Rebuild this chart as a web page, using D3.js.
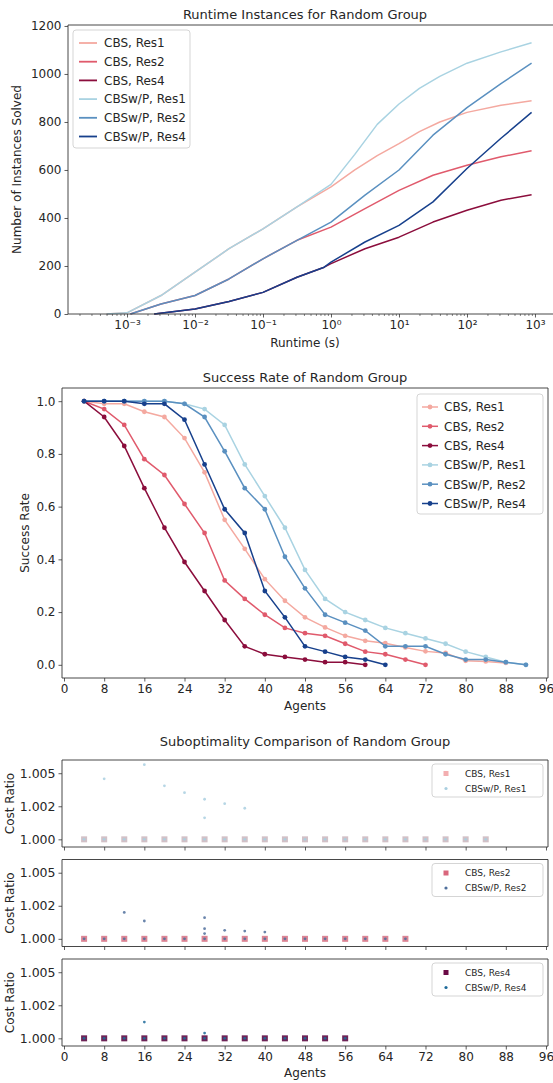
<!DOCTYPE html>
<html><head><meta charset="utf-8">
<script src="https://cdn.jsdelivr.net/npm/d3@7"></script>
<style>body{margin:0;background:#fff}svg{display:block;font-family:"DejaVu Sans",sans-serif}</style>
</head><body><svg id="c" width="553" height="1083"></svg>
<script>
// ---------- DATA ----------
const seriesNames = ["CBS, Res1","CBS, Res2","CBS, Res4","CBSw/P, Res1","CBSw/P, Res2","CBSw/P, Res4"];
const seriesColors = ["#f4a9a0","#e05a6c","#8b0d3c","#a9d3e2","#5a90c0","#17408c"];

// Runtime chart: log10(runtime seconds) and cumulative instances solved
const rtLog = [-3.3,-3.0,-2.5,-2.0,-1.5,-1.0,-0.5,0.0,0.35,0.68,1.0,1.3,1.6,2.0,2.5,2.95];
const rtCBS1  = [0,5,77,174,272,355,446,530,600,660,710,760,800,840,870,888];
const rtWP1   = [0,5,77,174,272,355,446,540,665,790,875,940,990,1045,1092,1130];
const rtLog2 = [-2.95,-2.5,-2.0,-1.5,-1.0,-0.5,0.0,0.5,1.0,1.5,2.0,2.5,2.95];
const rtCBS2  = [0,42,77,146,230,307,362,439,515,578,620,655,680];
const rtWP2   = [0,42,77,146,230,307,383,495,600,745,860,960,1045];
const rtLog4 = [-2.6,-2.0,-1.5,-1.0,-0.5,-0.1,0.0,0.5,1.0,1.5,2.0,2.5,2.95];
const rtCBS4  = [0,21,52,90,153,195,210,272,320,383,432,474,497];
const rtWP4   = [0,21,52,90,153,195,216,300,369,467,606,732,840];
const rtYTicks = [0,200,400,600,800,1000,1200];

// Success-rate chart
const agents = [4,8,12,16,20,24,28,32,36,40,44,48,52,56,60,64,68,72,76,80,84,88,92];
const srCBS1 = [1.0,0.99,0.99,0.96,0.94,0.86,0.73,0.55,0.44,0.325,0.243,0.18,0.142,0.11,0.091,0.082,0.066,0.051,0.045,0.015,0.013,0.007];
const srCBS2 = [1.0,0.97,0.91,0.78,0.72,0.61,0.50,0.32,0.25,0.19,0.14,0.12,0.11,0.08,0.05,0.04,0.02,0.0];
const srCBS4 = [1.0,0.94,0.83,0.67,0.52,0.39,0.28,0.17,0.07,0.04,0.03,0.02,0.01,0.01,0.0];
const srWP1  = [1.0,1.0,1.0,1.0,1.0,0.99,0.97,0.91,0.76,0.64,0.52,0.36,0.25,0.20,0.17,0.14,0.12,0.10,0.08,0.05,0.03,0.01,0.0];
const srWP2  = [1.0,1.0,1.0,1.0,1.0,0.99,0.94,0.81,0.67,0.59,0.41,0.29,0.19,0.16,0.13,0.07,0.07,0.07,0.04,0.02,0.02,0.01,0.0];
const srWP4  = [1.0,1.0,1.0,0.99,0.99,0.93,0.76,0.59,0.50,0.28,0.18,0.07,0.05,0.03,0.02,0.0];
const agentTicks = [0,8,16,24,32,40,48,56,64,72,80,88,96];
const srYTicks = [0.0,0.2,0.4,0.6,0.8,1.0];

// Suboptimality chart: CBS points all at ratio 1.000; CBSw/P outliers
const subCBSAgents = [
  [4,8,12,16,20,24,28,32,36,40,44,48,52,56,60,64,68,72,76,80,84],
  [4,8,12,16,20,24,28,32,36,40,44,48,52,56,60,64,68],
  [4,8,12,16,20,24,28,32,36,40,44,48,52,56]
];
const subWPAgents = [
  [4,8,8,12,16,16,20,20,24,24,28,28,28,32,32,36,36,40,44,48,52,56,60,64,68,72,76,80,84],
  [4,8,12,12,16,16,20,24,28,28,28,28,32,32,36,36,40,40,44,48,52,56,60,64,68],
  [4,8,12,16,16,20,24,28,28,32,36,40,44,48,52,56]
];
const subWPRatios = [
  [1,1,1.00458,1,1,1.00565,1,1.00405,1,1.00353,1,1.00303,1.00163,1,1.0027,1,1.00235,1,1,1,1,1,1,1,1,1,1,1,1],
  [1,1,1,1.0020,1,1.00135,1,1,1,1.0016,1.00077,1.0004,1,1.00064,1,1.00059,1,1.00051,1,1,1,1,1,1,1],
  [1,1,1,1,1.00123,1,1,1,1.0004,1,1,1,1,1,1,1]
];
const subSquareColors = ["#cdbac1","#d9788a","#5e0c45"];
const subDotColors = ["#a9cfe0","#4f6f9c","#1d6a9a"];
const subLegendSquare = ["#f3aeb0","#d9667c","#6a0a45"];
const subYTicks = [1.000,1.0025,1.005];
const subYLabels = ["1.000","1.002","1.005"];

// ---------- DRAW ----------
const svg = d3.select("#c");
svg.append("rect").attr("width",553).attr("height",1083).attr("fill","#fff");
const TXT = "#262626", AX = "#333";

function frame(g,x0,y0,x1,y1,sides){
  sides.forEach(s=>{
    const p = {l:[x0,y0,x0,y1], r:[x1,y0,x1,y1], t:[x0,y0,x1,y0], b:[x0,y1,x1,y1]}[s];
    g.append("line").attr("x1",p[0]).attr("y1",p[1]).attr("x2",p[2]).attr("y2",p[3])
      .attr("stroke",AX).attr("stroke-width",0.9);
  });
}
function styleAxis(g,fs){
  g.select(".domain").remove();
  g.selectAll(".tick line").attr("stroke",AX).attr("stroke-width",0.8);
  g.selectAll(".tick text").attr("fill",TXT).attr("font-size",fs).attr("font-family","DejaVu Sans");
}

// ===== Chart 1: runtime =====
{
  const L=68, T=25, R=560, B=314;
  const x = d3.scaleLog().domain([Math.pow(10,-3.868), Math.pow(10,3.368)]).range([L,R]);
  const y = d3.scaleLinear().domain([0,1204]).range([B,T]);
  const g = svg.append("g");
  svg.append("text").attr("x",305).attr("y",19).attr("text-anchor","middle").attr("font-size",13).attr("fill",TXT)
    .text("Runtime Instances for Random Group");
  const series = [
    [rtLog,rtCBS1,0],[rtLog2,rtCBS2,1],[rtLog4,rtCBS4,2],[rtLog,rtWP1,3],[rtLog2,rtWP2,4],[rtLog4,rtWP4,5]
  ];
  const line = d3.line().x(d=>x(Math.pow(10,d[0]))).y(d=>y(d[1]));
  series.forEach(([xs,ys,i])=>{
    g.append("path").attr("d",line(xs.map((v,k)=>[v,ys[k]]))).attr("fill","none")
      .attr("stroke",seriesColors[i]).attr("stroke-width",1.5).attr("stroke-linejoin","round");
  });
  frame(g,L,T,R,B,["l","t","b"]);
  const majors = [1e-3,1e-2,1e-1,1,10,100,1000];
  const supers = {"-3":"\u207B\u00B3","-2":"\u207B\u00B2","-1":"\u207B\u00B9","0":"\u2070","1":"\u00B9","2":"\u00B2","3":"\u00B3"};
  const xa = svg.append("g").attr("transform",`translate(0,${B})`)
    .call(d3.axisBottom(x).tickValues(majors).tickSize(3.5).tickPadding(3)
      .tickFormat(d=>"10"+supers[String(Math.round(Math.log10(d)))]));
  styleAxis(xa,12);
  const minors = [];
  for(let e=-4;e<=3;e++) for(let m=2;m<=9;m++){const v=m*Math.pow(10,e); if(x(v)>L && x(v)<553) minors.push(v);}
  svg.append("g").attr("transform",`translate(0,${B})`).call(d3.axisBottom(x).tickValues(minors).tickSize(2).tickFormat(""))
    .call(g=>{g.select(".domain").remove(); g.selectAll(".tick line").attr("stroke",AX).attr("stroke-width",0.6);});
  const ya = svg.append("g").attr("transform",`translate(${L},0)`)
    .call(d3.axisLeft(y).tickValues(rtYTicks).tickSize(3.5).tickPadding(3).tickFormat(d3.format("d")));
  styleAxis(ya,12);
  svg.append("text").attr("x",305).attr("y",347).attr("text-anchor","middle").attr("font-size",12).attr("fill",TXT).text("Runtime (s)");
  svg.append("text").attr("transform",`translate(21,${(T+B)/2}) rotate(-90)`).attr("text-anchor","middle")
    .attr("font-size",12).attr("fill",TXT).text("Number of Instances Solved");
  // legend
  const lg = svg.append("g");
  lg.append("rect").attr("x",73).attr("y",30).attr("width",117).attr("height",118).attr("rx",3)
    .attr("fill","#fff").attr("fill-opacity",0.85).attr("stroke","#d5d5d5");
  seriesNames.forEach((n,i)=>{
    const yy = 43 + i*18.7;
    lg.append("line").attr("x1",79).attr("x2",97).attr("y1",yy).attr("y2",yy).attr("stroke",seriesColors[i]).attr("stroke-width",1.8);
    lg.append("text").attr("x",104).attr("y",yy+4.3).attr("font-size",12).attr("fill",TXT).text(n);
  });
}

// ===== Chart 2: success rate =====
{
  const L=62, T=388, R=548, B=678;
  const x = d3.scaleLinear().domain([-0.4,96.4]).range([L,R]);
  const y = d3.scaleLinear().domain([-0.05,1.05]).range([B,T]);
  const g = svg.append("g");
  svg.append("text").attr("x",305).attr("y",382).attr("text-anchor","middle").attr("font-size",13).attr("fill",TXT)
    .text("Success Rate of Random Group");
  const data = [srCBS1,srCBS2,srCBS4,srWP1,srWP2,srWP4];
  const line = d3.line().x(d=>x(d[0])).y(d=>y(d[1]));
  data.forEach((vals,i)=>{
    const pts = vals.map((v,k)=>[agents[k],v]);
    g.append("path").attr("d",line(pts)).attr("fill","none").attr("stroke",seriesColors[i]).attr("stroke-width",1.5);
    g.selectAll(null).data(pts).enter().append("circle").attr("cx",d=>x(d[0])).attr("cy",d=>y(d[1])).attr("r",2.4)
      .attr("fill",seriesColors[i]);
  });
  frame(g,L,T,R,B,["l","r","t","b"]);
  const xa = svg.append("g").attr("transform",`translate(0,${B})`)
    .call(d3.axisBottom(x).tickValues(agentTicks).tickSize(3.5).tickPadding(3).tickFormat(d3.format("d")));
  styleAxis(xa,12);
  const ya = svg.append("g").attr("transform",`translate(${L},0)`)
    .call(d3.axisLeft(y).tickValues(srYTicks).tickSize(3.5).tickPadding(3).tickFormat(d3.format(".1f")));
  styleAxis(ya,12);
  svg.append("text").attr("x",305).attr("y",710).attr("text-anchor","middle").attr("font-size",12).attr("fill",TXT).text("Agents");
  svg.append("text").attr("transform",`translate(29,${(T+B)/2}) rotate(-90)`).attr("text-anchor","middle")
    .attr("font-size",12).attr("fill",TXT).text("Success Rate");
  const lg = svg.append("g");
  lg.append("rect").attr("x",417).attr("y",394).attr("width",126).attr("height",120).attr("rx",3)
    .attr("fill","#fff").attr("fill-opacity",0.85).attr("stroke","#d5d5d5");
  seriesNames.forEach((n,i)=>{
    const yy = 407 + i*19.3;
    lg.append("line").attr("x1",422).attr("x2",438).attr("y1",yy).attr("y2",yy).attr("stroke",seriesColors[i]).attr("stroke-width",1.5);
    lg.append("circle").attr("cx",430).attr("cy",yy).attr("r",2.4).attr("fill",seriesColors[i]);
    lg.append("text").attr("x",444).attr("y",yy+4.3).attr("font-size",12).attr("fill",TXT).text(n);
  });
}

// ===== Chart 3: suboptimality =====
{
  const L=62, R=548, H=87;
  const tops = [760, 859.5, 959];
  const x = d3.scaleLinear().domain([-0.4,96.4]).range([L,R]);
  svg.append("text").attr("x",305).attr("y",746).attr("text-anchor","middle").attr("font-size",13).attr("fill",TXT)
    .text("Suboptimality Comparison of Random Group");
  tops.forEach((T,p)=>{
    const B = T+H;
    const y = d3.scaleLinear().domain([0.99942,1.00600]).range([B,T]);
    const g = svg.append("g");
    g.selectAll(null).data(subCBSAgents[p]).enter().append("rect")
      .attr("x",d=>x(d)-3).attr("y",y(1)-3).attr("width",6).attr("height",6)
      .attr("fill",subSquareColors[p]).attr("fill-opacity",0.9);
    g.selectAll(null).data(subWPAgents[p].map((a,k)=>[a,subWPRatios[p][k]])).enter().append("circle")
      .attr("cx",d=>x(d[0])).attr("cy",d=>y(d[1])).attr("r",1.4)
      .attr("fill",subDotColors[p]).attr("fill-opacity",0.85);
    frame(g,L,T,R,B,["l","r","t","b"]);
    const xa = svg.append("g").attr("transform",`translate(0,${B})`)
      .call(d3.axisBottom(x).tickValues(agentTicks).tickSize(3.5).tickPadding(3)
        .tickFormat(p===2 ? d3.format("d") : ""));
    styleAxis(xa,12);
    const ya = svg.append("g").attr("transform",`translate(${L},0)`)
      .call(d3.axisLeft(y).tickValues(subYTicks).tickSize(3.5).tickPadding(3).tickFormat((d,k)=>subYLabels[k]));
    styleAxis(ya,12.5);
    svg.append("text").attr("transform",`translate(14,${T+H/2}) rotate(-90)`).attr("text-anchor","middle")
      .attr("font-size",12).attr("fill",TXT).text("Cost Ratio");
    const lg = svg.append("g");
    const res = ["Res1","Res2","Res4"][p];
    lg.append("rect").attr("x",432).attr("y",T+4).attr("width",111).attr("height",33).attr("rx",3)
      .attr("fill","#fff").attr("fill-opacity",0.85).attr("stroke","#d5d5d5");
    lg.append("rect").attr("x",443.5).attr("y",T+13.5-2.5).attr("width",5).attr("height",5).attr("fill",subLegendSquare[p]);
    lg.append("circle").attr("cx",446).attr("cy",T+28.5).attr("r",1.6).attr("fill",subDotColors[p]);
    lg.append("text").attr("x",465).attr("y",T+16.5).attr("font-size",9).attr("fill",TXT).text("CBS, "+res);
    lg.append("text").attr("x",465).attr("y",T+31.5).attr("font-size",9).attr("fill",TXT).text("CBSw/P, "+res);
  });
  svg.append("text").attr("x",305).attr("y",1077).attr("text-anchor","middle").attr("font-size",12).attr("fill",TXT).text("Agents");
}
</script></body></html>
